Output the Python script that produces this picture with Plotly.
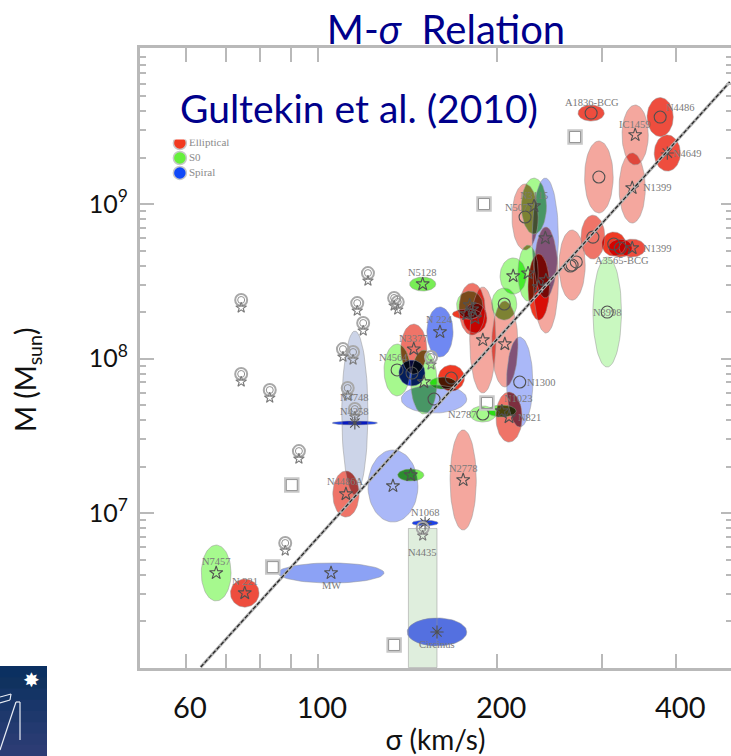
import math
import plotly.graph_objects as go

# ---- measured values (log10 sigma [km/s], log10 M [Msun], half-widths of the error ellipses in dex)
names = ["A1836-BCG","N4486","IC1459","N1399","N4649","","N5077","N3115","","","","","","","","","A3565-BCG","N1399","N3998",
         "N5128","","","","","","","","N1300","N1023","N2787","N821","N3377","N 224","N4564","","","","","","N4748","N4258",
         "N4486A","","","N2778","N7457","N 221","MW","N1068","N4435","Circinus"]
log_sigma = [2.459,2.575,2.533,2.528,2.587,2.472,2.348,2.363,2.382,2.383,2.353,2.328,2.371,2.427,2.462,2.497,2.508,2.528,2.486,
             2.176,2.255,2.259,2.250,2.264,2.277,2.313,2.314,2.339,2.321,2.277,2.309,2.161,2.205,2.133,2.158,2.178,2.195,2.224,2.210,2.062,2.062,
             2.047,2.126,2.156,2.244,1.829,1.877,2.022,2.180,2.176,2.200]
log_mass = [9.589,9.563,9.447,9.104,9.330,9.175,8.916,8.987,8.780,8.508,8.553,8.534,8.463,8.605,8.786,8.741,8.715,8.715,8.301,
            8.482,8.346,8.320,8.288,8.262,8.120,8.353,8.094,7.848,7.621,7.641,7.660,8.061,8.172,7.926,7.906,7.848,7.738,7.874,7.841,7.647,7.583,
            7.123,7.175,7.246,7.214,6.612,6.482,6.612,6.935,6.450,6.230]
dlog_sigma = [.022,.022,.022,.022,.022,.024,.022,.021,.022,.021,.017,.022,.018,.022,.020,.020,.020,.022,.024,
              .022,.022,.022,.024,.020,.022,.021,.022,.022,.022,.022,.024,.022,.022,.022,.022,.022,.055,.022,.022,.022,.038,
              .022,.042,.022,.022,.025,.024,.089,.022,.024,.050]
dlog_mass = [.052,.126,.194,.227,.117,.233,.214,.181,.388,.343,.181,.117,.214,.227,.142,.078,.058,.058,.356,
             .045,.091,.168,.032,.097,.343,.104,.278,.291,.162,.052,.039,.162,.162,.168,.084,.207,.091,.084,.039,.531,.013,
             .149,.233,.039,.324,.181,.091,.065,.019,.450,.091]
tone = ["R","R","P","P","R","P","P","H","B","P","H","H","S","P","M","S","S","R","G",
        "J","H","M","S","S","P","H","P","B","M","H","J","M","C","H","D","H","B","S","J","V","D",
        "M","B","J","P","H","R","L","D","W","E"]
mark = ["o","o","*","*","x","o","o","*","*","*","*","*","*","o","o","o","o","*","o",
        "*","*","*","*","*","*","o","*","o","*","o","*","*","*","o","o","*","o","o","","","x",
        "*","*","*","*","*","*","*","x","","x"]
label_dx = [1,20,0,25,20,0,-6,0,0,0,0,0,0,0,0,0,2,25,0,
            0,0,0,0,0,0,0,0,22,9,-20,28,0,0,-4,0,0,0,0,0,0,0,
            0,0,0,0,0,0,0,0,0,0]
label_dy = [11,10,10,0,0,0,10,11,0,0,0,0,0,0,0,0,-12,0,0,
            12,0,0,0,0,0,0,0,0,19,0,-6,11,12,12,0,0,0,0,0,16,11,
            13,0,0,11,11,12,-13,11,46,-12]

limit_sigma = [1.871,1.871,1.919,1.968,1.945,2.084,2.066,2.076,2.042,2.128,2.134,2.050,2.062,2.059,2.190,2.176]
limit_mass = [7.900,8.379,7.796,7.401,6.806,8.553,8.359,8.230,8.061,8.392,8.366,7.809,7.673,8.042,8.010,6.903]
extra_sigma = [2.424,2.434]
extra_mass = [8.599,8.625]
square_sigma = [2.432,2.279,1.924,1.956,2.128,2.284]
square_mass = [9.434,9.000,6.650,7.181,6.146,7.712]
line_sigma = [1.803,2.692]
line_mass = [6.003,9.790]
legend_names = ["Elliptical","S0","Spiral"]
legend_sigma = [1.768,1.768,1.768]
legend_mass = [9.395,9.298,9.201]
legend_colors = ["#f23a20","#66f03c","#1048f8"]

x_major = [60,100,200,400]
x_text = ["60","100","200","400"]
x_minor = [70,80,90,300,500]
y_major = [1e7,1e8,1e9]
y_text = ["10<sup>7</sup>","10<sup>8</sup>","10<sup>9</sup>"]
y_minor = [m*10**e for e in range(6,10) for m in range(2,10)]

palette = {"P":"#f4a79e","M":"#ef7468","R":"#ee4d3e","S":"#f03a24","G":"#c9f8c0","H":"#a6f98e","J":"#78ee55",
           "B":"#aab8f8","C":"#6f88f2","D":"#1c40e8","L":"#8ca2f5","V":"#ccd4e8","W":"#dfeedd","E":"#5470e0"}

GREY = "#b9b9b9"; NAVY = "#00008b"; LABEL = "#7a7a7a"; OVERLAP_GAMMA = 1.5

def outline(i):
    cx, cy, rx, ry = log_sigma[i], log_mass[i], dlog_sigma[i], dlog_mass[i]
    if tone[i] == "W":          # N4435: open-ended range, drawn as a box
        return [(cx-rx,cy-ry),(cx+rx,cy-ry),(cx+rx,cy+ry),(cx-rx,cy+ry)]
    return [(cx+rx*math.cos(t*2*math.pi/72), cy+ry*math.sin(t*2*math.pi/72)) for t in range(72)]

def clip(subject, window):
    """Sutherland-Hodgman clip of a polygon against a convex counter-clockwise window."""
    out = subject
    for k in range(len(window)):
        a, b = window[k], window[(k+1) % len(window)]
        inp, out = out, []
        side = lambda p: (b[0]-a[0])*(p[1]-a[1]) - (b[1]-a[1])*(p[0]-a[0])
        for j in range(len(inp)):
            p, q = inp[j], inp[(j+1) % len(inp)]
            sp, sq = side(p), side(q)
            if sp >= 0: out.append(p)
            if sp*sq < 0:
                u = sp/(sp-sq)
                out.append((p[0]+u*(q[0]-p[0]), p[1]+u*(q[1]-p[1])))
        if not out:
            return []
    return out

def rgb(h):
    return [int(h[i:i+2],16) for i in (1,3,5)]

def multiply(keys):
    keys = [k for k in keys if k != "W"] or ["W"]   # the faint N4435 band does not tint what lies on it
    if len(keys) == 1:
        return palette[keys[0]]
    c = [1.0,1.0,1.0]
    for k in keys:
        c = [a*b/255 for a,b in zip(c, rgb(palette[k]))]
    return "rgb(%d,%d,%d)" % tuple(255*v**OVERLAP_GAMMA for v in c)

def fill_trace(poly, color):
    xs = [10**p[0] for p in poly]; ys = [10**p[1] for p in poly]
    return go.Scatter(x=xs+xs[:1], y=ys+ys[:1], mode="lines", fill="toself", fillcolor=color,
                      line=dict(width=0), hoverinfo="skip", showlegend=False)

polys = [outline(i) for i in range(len(names))]
layers = []
def grow(members, poly):
    layers.append((members, poly))
    for j in range(members[-1]+1, len(polys)):
        clipped = clip(poly, polys[j])
        if len(clipped) >= 3:
            grow(members+[j], clipped)
for i in range(len(polys)):
    grow([i], polys[i])
layers.sort(key=lambda l: len(l[0]))

fig = go.Figure()
for members, poly in layers:
    fig.add_trace(fill_trace(poly, multiply([tone[m] for m in members])))
for p in polys:
    xs = [10**q[0] for q in p]; ys = [10**q[1] for q in p]
    fig.add_trace(go.Scatter(x=xs+xs[:1], y=ys+ys[:1], mode="lines", line=dict(color="rgba(150,150,150,0.5)", width=1),
                             hoverinfo="skip", showlegend=False))

def pts(xs, ys, symbol, size, color, width, yoff=0.0):
    fig.add_trace(go.Scatter(x=[10**v for v in xs], y=[10**(v+yoff) for v in ys], mode="markers", showlegend=False,
                             hoverinfo="skip", marker=dict(symbol=symbol, size=size, color=color, line=dict(color=color, width=width))))

# error-ellipse marks
for key, sym, size in (("*","star-open",10),("o","circle-open",12),("x","asterisk-open",11)):
    idx = [i for i in range(len(names)) if mark[i]==key]
    pts([log_sigma[i] for i in idx],[log_mass[i] for i in idx],sym,size,"#505050",1.1)
pts(extra_sigma, extra_mass, "circle-open", 12, "#555555", 1.1)
# upper limits
pts(limit_sigma, limit_mass, "circle-open", 12, "#a8a8a8", 2)
pts(limit_sigma, limit_mass, "circle-open", 7, "#909090", 1)
pts(limit_sigma, limit_mass, "star-open", 8, "#7a7a7a", 1.1, -0.05)
# squares
pts(square_sigma, square_mass, "square-open", 13, "#c8c8c8", 2.5)
pts(square_sigma, square_mass, "square-open", 11, "#969696", 1)

# morphology key
fig.add_trace(go.Scatter(x=[10**v for v in legend_sigma], y=[10**v for v in legend_mass], mode="markers+text",
                         text=legend_names, textposition="middle right", hoverinfo="skip", showlegend=False,
                         textfont=dict(family="Liberation Serif", size=11, color="#8a8a8a"),
                         marker=dict(size=13, color=legend_colors, line=dict(color="#c8c8c8", width=1.5))))

# M-sigma fit on the mirrored axis, so it is drawn above the marks
fig.add_trace(go.Scatter(x=[10**v for v in line_sigma], y=[10**v for v in line_mass], mode="lines", yaxis="y2",
                         line=dict(color="#b0b0b0", width=3), hoverinfo="skip", showlegend=False))
fig.add_trace(go.Scatter(x=[10**v for v in line_sigma], y=[10**v for v in line_mass], mode="lines", yaxis="y2",
                         line=dict(color="#222222", width=1.2, dash="4px,2px"), hoverinfo="skip", showlegend=False))

# page pixels -> paper fractions of the plot area
L, R, T, B = 140, 731, 48, 668
px = lambda v: (v-L)/(R-L)
py = lambda v: (B-v)/(B-T)

notes = []
for i, n in enumerate(names):
    if n:
        notes.append(dict(x=log_sigma[i], y=log_mass[i], xref="x", yref="y", text=n, showarrow=False,
                          xshift=label_dx[i], yshift=label_dy[i],
                          font=dict(family="Liberation Serif", size=10.5, color=LABEL)))
notes.append(dict(x=px(359), y=py(108), xref="paper", yref="paper", xanchor="center", yanchor="middle",
                  text="Gultekin et al. (2010)", showarrow=False,
                  font=dict(family="Lato", size=39, color=NAVY), bgcolor="white", width=372, height=60))
notes.append(dict(x=px(27), y=py(380), xref="paper", yref="paper", xanchor="center", yanchor="middle",
                  text="M (M<sub>sun</sub>)", showarrow=False,
                  textangle=-90, font=dict(family="Lato", size=28, color="#111111")))
notes.append(dict(x=px(31), y=py(680), xref="paper", yref="paper", xanchor="center", yanchor="middle",
                  text="✸", showarrow=False, font=dict(family="DejaVu Sans", size=20, color="white")))

# logo block (page decoration)
shapes = []
bands = ["#0b3061","#10325f","#143465","#19366a","#1e386c","#233a70","#283b72","#2c3c74"]
for k, c in enumerate(bands):
    top = 666+k*90/8
    shapes.append(dict(type="rect", xref="paper", yref="paper", x0=px(0), x1=px(47), y0=py(top), y1=py(top+90/8+1),
                       fillcolor=c, line=dict(width=0), layer="below"))
for seg in ([(0,697),(11,694),(10,700),(0,703)], [(0,750),(16,702),(20,702),(20,740)]):
    for a, b in zip(seg, seg[1:]):
        shapes.append(dict(type="line", xref="paper", yref="paper", x0=px(a[0]), y0=py(a[1]), x1=px(b[0]), y1=py(b[1]),
                           line=dict(color="#e8ecf4", width=1.2), layer="below"))

axis_common = dict(type="log", ticks="inside", tickcolor=GREY, tickwidth=2, zeroline=False, showgrid=False)
y_range = [5.997, 10.01]
fig.update_layout(
    width=731, height=756, margin=dict(l=140, r=0, t=48, b=88, autoexpand=False),
    paper_bgcolor="white", plot_bgcolor="rgba(0,0,0,0)", showlegend=False,
    title=dict(text="M-<i>σ</i>  Relation", x=446/731, xanchor="center", y=1-30/756, yanchor="middle",
               font=dict(family="Lato", size=40, color=NAVY)),
    xaxis=dict(axis_common, range=[1.701, 2.694], showline=True, linecolor=GREY, linewidth=3, mirror="ticks",
               tickmode="array", tickvals=x_major, ticktext=x_text, ticklen=14, ticklabelshift=4, ticklabelstandoff=12,
               tickfont=dict(family="Lato", size=29, color="#111111"),
               minor=dict(tickmode="array", tickvals=x_minor, ticks="inside", ticklen=14, tickcolor=GREY, tickwidth=2),
               title=dict(text="σ (km/s)", standoff=4, font=dict(family="Lato", size=28, color="#111111"))),
    yaxis=dict(axis_common, range=y_range, showline=True, linecolor=GREY, linewidth=3,
               tickmode="array", tickvals=y_major, ticktext=y_text, ticklen=14, ticklabelstandoff=4,
               tickfont=dict(family="Lato", size=25, color="#111111"),
               minor=dict(tickmode="array", tickvals=y_minor, ticks="inside", ticklen=6, tickcolor=GREY, tickwidth=2)),
    yaxis2=dict(axis_common, range=y_range, overlaying="y", side="right", showline=False, anchor="x",
                tickmode="array", tickvals=y_major, ticklen=10, showticklabels=False,
                minor=dict(tickmode="array", tickvals=y_minor, ticks="inside", ticklen=5, tickcolor=GREY, tickwidth=2)),
    annotations=notes, shapes=shapes,
)
fig.write_html("out.html", config={"displayModeBar": False},
               post_script="document.body.style.margin='0';document.body.style.overflow='hidden';")
